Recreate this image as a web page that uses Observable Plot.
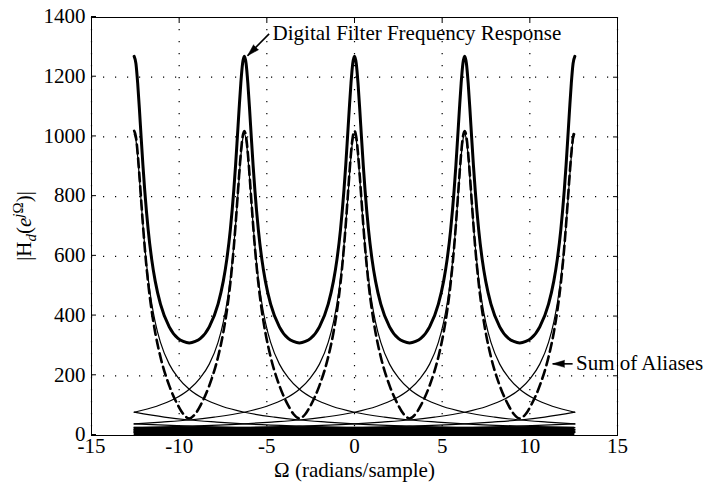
<!DOCTYPE html>
<html><head><meta charset="utf-8">
<script src="https://cdn.jsdelivr.net/npm/d3@7"></script>
<script src="https://cdn.jsdelivr.net/npm/@observablehq/plot@0.6"></script>
<style>
body{margin:0;background:#fff}
#chart svg, #chart svg text {font-family: 'Liberation Serif', 'Times New Roman', serif !important;}
</style>
</head><body><div id="chart"></div>
<script>
// ---- data ----
const xTicks = [-15, -10, -5, 0, 5, 10, 15];
const yTicks = [0, 200, 400, 600, 800, 1000, 1200, 1400];
const xLabel = "Ω (radians/sample)";

// peaks of the periodic responses sit at k·2π
const peakIndex = [-2, -1, 0, 1, 2];
// distance from a peak (radians) and magnitude, half a period
const periodDist = [0, 0.1, 0.2, 0.3, 0.4, 0.5, 0.6, 0.8, 1.0, 1.2, 1.5, 2.0, 2.5, 2.8, 3.1416];
const filterMag  = [1270, 1246, 1180, 1092, 997, 905, 823, 689, 590, 517, 440, 364, 325, 315, 310];
const sumMag     = [1020, 1000, 945, 870, 787, 706, 632, 510, 417, 345, 263, 167, 101, 72, 57];

// individual aliases, each centred at k·2π
const aliasIndex = [-6, -5, -4, -3, -2, -1, 0, 1, 2, 3, 4, 5, 6];
const aliasDist = [0, 0.1, 0.2, 0.3, 0.4, 0.5, 0.6, 0.8, 1.0, 1.2, 1.5, 2.0, 2.5, 3.1416, 4, 5,
  6.2832, 8, 9.4248, 11, 12.5664, 15.708, 18.8496, 21.991, 25.1327, 31.4159, 37.6991, 43.9823, 50.2655];
const aliasMag = [1010, 989, 934, 860, 781, 705, 637, 526, 443, 380, 312, 239, 194, 155, 122, 98,
  78, 61.5, 52, 45, 39, 31.4, 26, 22.4, 19.6, 15.7, 13, 11.2, 9.8];

// dense band of far-away aliases
const bandX = [-4 * Math.PI, 4 * Math.PI];
const bandTop = 28;

// annotations
const noteText = ["Digital Filter Frequency Response", "Sum of Aliases"];
const noteX = [-4.67, 12.63];
const noteY = [1325, 220];
const arrowX1 = [-4.87, 12.44], arrowY1 = [1345, 240];
const arrowX2 = [-6.10, 11.30], arrowY2 = [1272, 240];
const arrowAngle = [225, 270];

// ---- build tables ----
const LIM = 4 * Math.PI;
function dedupe(pts) {
  pts.sort((a, b) => a.x - b.x);
  return pts.filter((p, i) => i === 0 || Math.abs(p.x - pts[i - 1].x) > 1e-3);
}
function periodic(mag) {
  const pts = [];
  for (const k of peakIndex) for (let i = 0; i < periodDist.length; i++) for (const s of [-1, 1]) {
    const x = k * 2 * Math.PI + s * periodDist[i];
    if (Math.abs(x) <= LIM + 1e-3) pts.push({x, y: mag[i]});
  }
  return dedupe(pts);
}
const filterData = periodic(filterMag);
const sumData = periodic(sumMag);
const aliasData = [];
for (const k of aliasIndex) {
  const pts = [];
  for (let i = 0; i < aliasDist.length; i++) for (const s of [-1, 1]) {
    const x = k * 2 * Math.PI + s * aliasDist[i];
    if (Math.abs(x) <= LIM + 1e-3) pts.push({x, y: aliasMag[i], k});
  }
  aliasData.push(...dedupe(pts));
}
const band = [{x1: bandX[0], x2: bandX[1], y1: 0, y2: bandTop}];
const notes = noteText.map((t, i) => ({t, x: noteX[i], y: noteY[i]}));
const arrows = arrowX1.map((_, i) => ({x1: arrowX1[i], y1: arrowY1[i], x2: arrowX2[i], y2: arrowY2[i], a: arrowAngle[i]}));

const font = "'Liberation Serif', 'Times New Roman', serif";
const chart = Plot.plot({
  width: 706, height: 483,
  marginLeft: 91, marginRight: 89, marginTop: 17, marginBottom: 48,
  style: {fontFamily: font, fontSize: "21px", background: "white", color: "black"},
  x: {domain: [-15, 15]},
  y: {domain: [0, 1400]},
  marks: [
    Plot.gridX(xTicks, {stroke: "black", strokeOpacity: 1, strokeWidth: 1.2, strokeDasharray: "1.2,10.8"}),
    Plot.gridY(yTicks, {stroke: "black", strokeOpacity: 1, strokeWidth: 1.2, strokeDasharray: "1.2,10.8"}),
    Plot.rect(band, {x1: "x1", x2: "x2", y1: "y1", y2: "y2", fill: "black"}),
    Plot.line(aliasData, {x: "x", y: "y", z: "k", stroke: "black", strokeWidth: 1.2, curve: "monotone-x"}),
    Plot.line(sumData, {x: "x", y: "y", stroke: "black", strokeWidth: 2.6, strokeDasharray: "9,5", curve: "monotone-x"}),
    Plot.line(filterData, {x: "x", y: "y", stroke: "black", strokeWidth: 3, curve: "monotone-x"}),
    Plot.frame({stroke: "black", strokeWidth: 1}),
    Plot.axisX(xTicks, {anchor: "bottom", tickSize: -5, tickPadding: 8, tickFormat: d => String(d), label: null, fontFamily: font}),
    Plot.axisX(xTicks, {anchor: "top", tickSize: -5, tickFormat: () => "", label: null}),
    Plot.axisY(yTicks, {anchor: "left", tickSize: -5, tickPadding: 11, dy: -1, tickFormat: d => String(d), label: null, fontFamily: font}),
    Plot.axisY(yTicks, {anchor: "right", tickSize: -5, tickFormat: () => "", label: null}),
    Plot.text([xLabel], {text: d => d, frameAnchor: "bottom", lineAnchor: "bottom", dy: 41, fontSize: 21, fontFamily: font}),
    Plot.link(arrows, {x1: "x1", y1: "y1", x2: "x2", y2: "y2", stroke: "black", strokeWidth: 1.6}),
    Plot.vector(arrows, {x: "x2", y: "y2", rotate: "a", length: 12, r: 3.5, anchor: "end", shape: "spike", fill: "black", stroke: "black", strokeWidth: 0.5}),
    Plot.text(notes, {x: "x", y: "y", text: "t", textAnchor: "start", lineAnchor: "bottom", fontSize: 21, fontFamily: font})
  ]
});
document.getElementById("chart").appendChild(chart);

// y-axis label with subscript / superscript
const svg = d3.select(chart);
const yl = svg.append("text")
  .attr("transform", "translate(31,226) rotate(-90)")
  .attr("text-anchor", "middle")
  .attr("font-family", font)
  .attr("font-size", 21)
  .attr("fill", "black");
yl.append("tspan").text("|H");
yl.append("tspan").attr("font-style", "italic").attr("font-size", 15).attr("dy", 5).text("d");
yl.append("tspan").attr("dy", -5).text("(");
yl.append("tspan").attr("font-style", "italic").text("e");
yl.append("tspan").attr("font-style", "italic").attr("font-size", 15).attr("dy", -8).text("j");
yl.append("tspan").attr("font-size", 15).text("Ω");
yl.append("tspan").attr("dy", 8).text(")|");
</script>
</body></html>
